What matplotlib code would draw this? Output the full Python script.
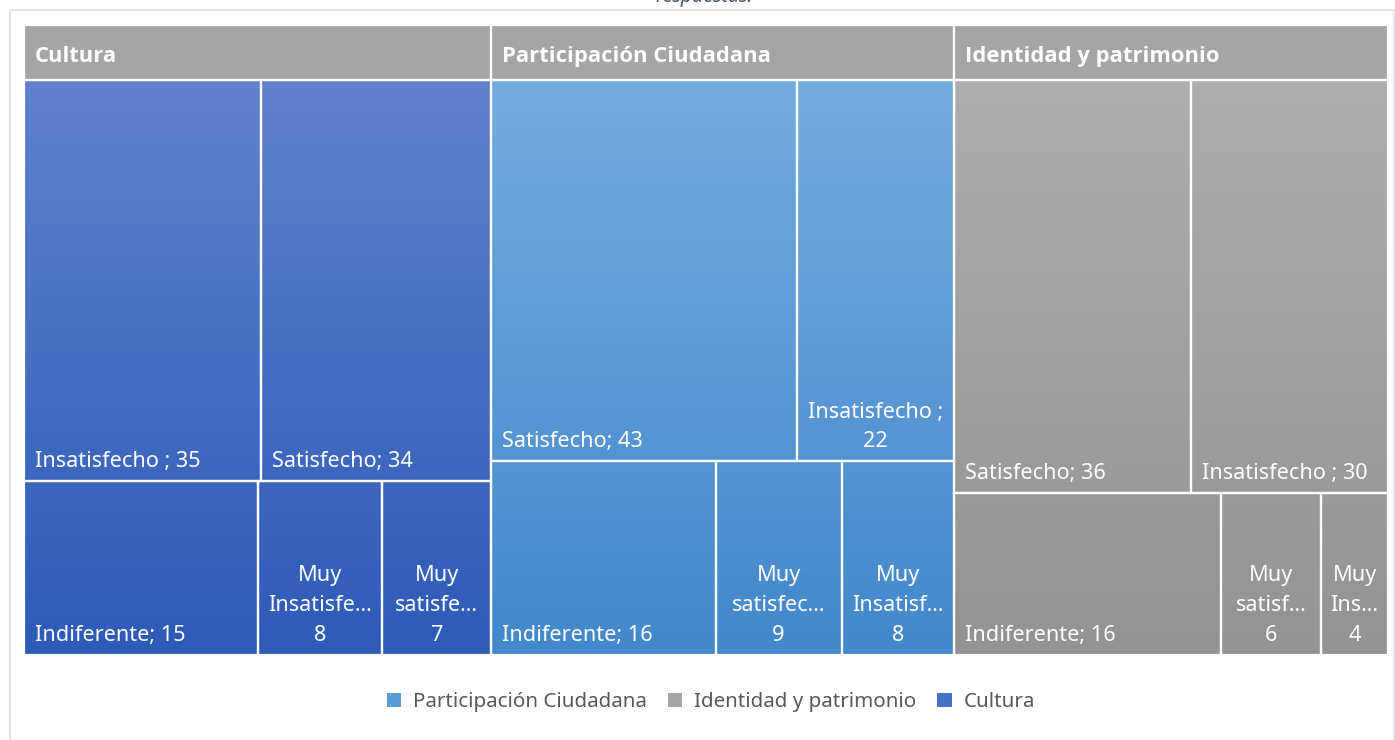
import numpy as np
import matplotlib
matplotlib.use('Agg')
import matplotlib.pyplot as plt
from matplotlib.colors import LinearSegmentedColormap
from matplotlib.patches import Rectangle

plt.rcParams['font.family'] = ['Noto Sans', 'DejaVu Sans']

# datos del treemap: grupo -> filas de categorías
groups = ['Cultura', 'Participación Ciudadana', 'Identidad y patrimonio']
row1_labels = [['Insatisfecho ; 35', 'Satisfecho; 34'],
               ['Satisfecho; 43', 'Insatisfecho ;\n22'],
               ['Satisfecho; 36', 'Insatisfecho ; 30']]
row1_values = [[35, 34], [43, 22], [36, 30]]
row2_labels = [['Indiferente; 15', 'Muy\nInsatisfe...\n8', 'Muy\nsatisfe...\n7'],
               ['Indiferente; 16', 'Muy\nsatisfec...\n9', 'Muy\nInsatisf...\n8'],
               ['Indiferente; 16', 'Muy\nsatisf...\n6', 'Muy\nIns...\n4']]
row2_values = [[15, 8, 7], [16, 9, 8], [16, 6, 4]]

legend_order = ['Participación Ciudadana', 'Identidad y patrimonio', 'Cultura']
base_colors = {'Cultura': '#4472C4', 'Participación Ciudadana': '#5B9BD5',
               'Identidad y patrimonio': '#A5A5A5'}
grad_colors = {'Cultura': ('#6181CE', '#2E5AB8'),
               'Participación Ciudadana': ('#75ABE0', '#4288CA'),
               'Identidad y patrimonio': ('#AEAEAE', '#939393')}

# zona del gráfico en píxeles
W, H = 1395, 740
left, right = 24, 1388
top, head_h, bottom = 25, 55, 655

fig = plt.figure(figsize=(W / 100, H / 100), dpi=100)
ax = fig.add_axes([0, 0, 1, 1])
ax.set_xlim(0, W)
ax.set_ylim(H, 0)
ax.axis('off')

# marco del gráfico
ax.add_patch(Rectangle((10, 10), W - 11, H, fill=False, ec='#DCE1EA', lw=1.2))
ax.text(704, -3, 'respuestas.', ha='center', va='center', style='italic',
        fontsize=14, color='#44546A')

totals = [sum(a) + sum(b) for a, b in zip(row1_values, row2_values)]
grand = sum(totals)
body_top = top + head_h
body_h = bottom - body_top
fs = 15.6


def draw_cell(x0, x1, y0, y1, cmap, text):
    grad = np.linspace((y0 - body_top) / body_h, (y1 - body_top) / body_h, 100).reshape(-1, 1)
    ax.imshow(grad, cmap=cmap, vmin=0, vmax=1, aspect='auto',
              extent=(x0, x1, y1, y0), interpolation='bilinear', zorder=1)
    ax.add_patch(Rectangle((x0, y0), x1 - x0, y1 - y0, fill=False, ec='white', lw=1.6, zorder=3))
    if '\n' in text:
        ax.text((x0 + x1) / 2, y1 - 9, text, ha='center', va='bottom', color='white',
                fontsize=fs, linespacing=1.55, zorder=4)
    else:
        ax.text(x0 + 11, y1 - 9, text, ha='left', va='bottom', color='white',
                fontsize=fs, zorder=4)


x = left
for g, name in enumerate(groups):
    gw = (right - left) * totals[g] / grand
    cmap = LinearSegmentedColormap.from_list(name, grad_colors[name])
    # cabecera del grupo
    ax.add_patch(Rectangle((x, top), gw, head_h, fc='#A5A5A5', ec='white', lw=1.6, zorder=3))
    ax.text(x + 11, top + head_h / 2 + 4, name, ha='left', va='center', color='white',
            fontsize=15.8, fontweight='bold', family=['Open Sans', 'DejaVu Sans'], zorder=4)
    y_split = body_top + body_h * sum(row1_values[g]) / totals[g]
    for vals, labs, y0, y1 in [(row1_values[g], row1_labels[g], body_top, y_split),
                               (row2_values[g], row2_labels[g], y_split, bottom)]:
        cx = x
        for v, lab in zip(vals, labs):
            cw = gw * v / sum(vals)
            draw_cell(cx, cx + cw, y0, y1, cmap, lab)
            cx += cw
    x += gw

handles = [Rectangle((0, 0), 1, 1, fc=base_colors[n]) for n in legend_order]
fig.legend(handles, legend_order, loc='center', bbox_to_anchor=(711 / W, 1 - 702 / H),
           ncol=3, frameon=False, fontsize=14.8, handlelength=0.7, handleheight=0.7,
           handletextpad=0.6, columnspacing=1.0, labelcolor='#595959')

fig.savefig('out.png', dpi=100)
